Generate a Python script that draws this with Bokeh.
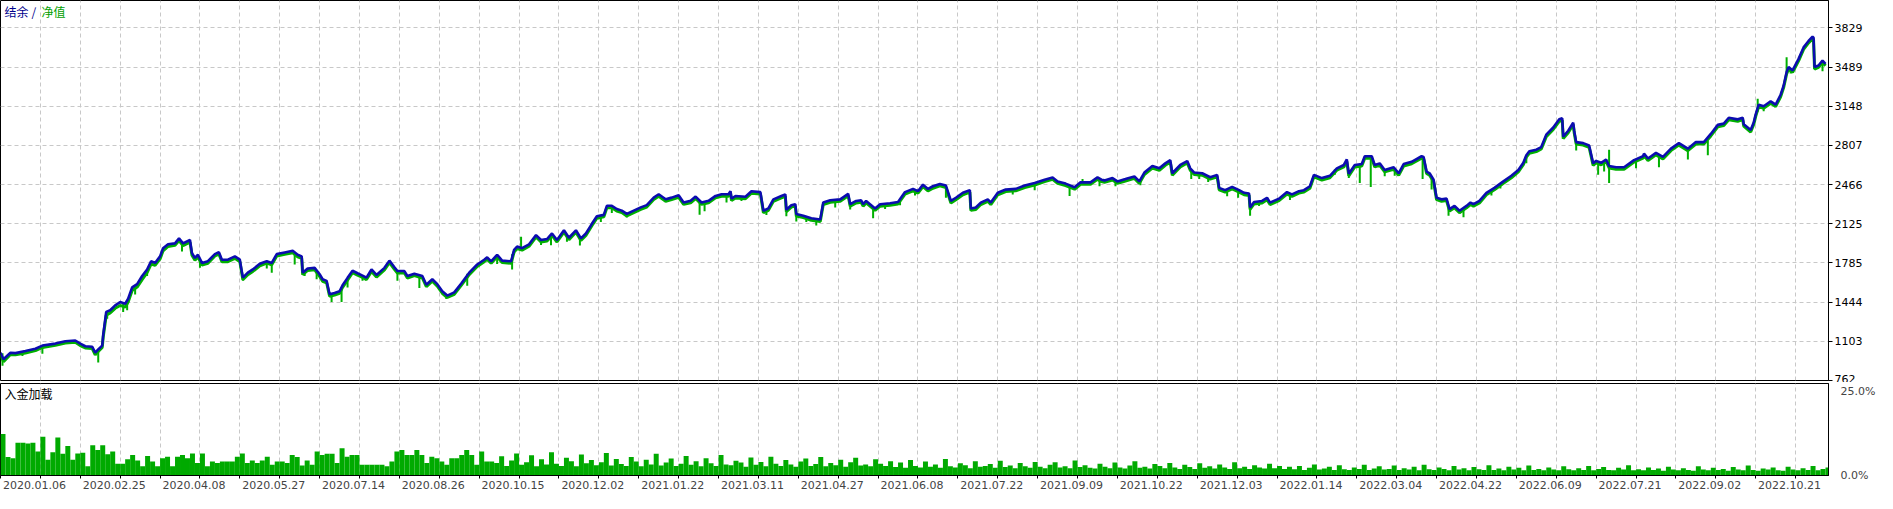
from bokeh.plotting import figure
from bokeh.models import Range1d, FixedTicker, Label, LinearAxis
from bokeh.layouts import column
from bokeh.embed import file_html
from bokeh.resources import INLINE

# ---------------- data ----------------
deal_idx = [
    0, 3, 10, 15, 25, 35, 42, 55, 65, 75, 80, 85, 92, 95, 98, 102, 103, 106, 110, 115,
    120, 125, 128, 132, 137, 142, 147, 151, 155, 160, 163, 168, 175, 179, 183, 190, 192, 195, 198, 202,
    208, 215, 219, 222, 228, 235, 240, 243, 248, 253, 260, 267, 272, 277, 285, 293, 298, 302, 303, 308,
    315, 320, 323, 327, 330, 335, 340, 343, 348, 353, 358, 363,
    367, 372, 377, 385, 390, 395, 398, 405, 408, 415, 423, 427, 433, 438, 443, 448, 455, 462, 470, 478,
    485, 488, 492, 498, 503, 512, 515, 518, 523, 530, 537, 542, 548, 553, 558, 565, 570, 577, 582, 587,
    593, 598, 605, 608, 613, 618, 623, 628, 635, 642, 648, 655, 660, 667, 673, 680, 685, 692, 697, 703,
    710, 717, 723, 730, 732, 733,
    737, 747, 753, 762, 765, 770, 775, 783, 787, 788, 793, 797, 798, 805, 813, 822, 825, 832, 842, 850,
    852, 858, 863, 865, 868, 877, 882, 892, 900, 907, 915, 920, 925, 930, 935, 942, 948, 953, 958, 965,
    972, 973, 978, 983, 990, 993, 1000, 1008, 1018, 1027, 1037, 1047, 1055, 1060, 1068, 1077, 1083, 1093, 1100, 1104,
    1107, 1115, 1120, 1128, 1137, 1142, 1147, 1155, 1162, 1168, 1173, 1175, 1183, 1190, 1193, 1197, 1205, 1213, 1220, 1222,
    1228, 1235, 1242, 1247, 1252, 1253, 1257, 1265, 1270, 1273, 1282, 1290, 1295, 1302, 1307, 1313, 1317, 1325, 1333, 1340,
    1347, 1350, 1352, 1358, 1365, 1368, 1375, 1378, 1383, 1388, 1397, 1402, 1407, 1415, 1425, 1427, 1430, 1433, 1437, 1440,
    1445, 1450, 1453, 1458, 1463, 1470, 1474,
    1477, 1483, 1490, 1498, 1507, 1515, 1522, 1527, 1530, 1533, 1540, 1545, 1550, 1557, 1563, 1566, 1567, 1572, 1577, 1578,
    1580, 1587, 1593, 1597, 1600, 1605, 1610, 1613, 1620, 1628, 1638, 1647, 1648, 1652, 1660, 1667, 1675, 1683, 1692, 1700,
    1708, 1715, 1722, 1728, 1733, 1742, 1747, 1748, 1755, 1758, 1760, 1763, 1768, 1775, 1780, 1785, 1788, 1791, 1793, 1797,
    1803, 1808, 1813, 1817, 1818, 1819, 1823, 1827, 1830,
]

balance = [
    1004, 947, 1004, 1000, 1018, 1038, 1066, 1083, 1103, 1110, 1083, 1060, 1055, 1004, 1032, 1066, 1160, 1359, 1373, 1416,
    1444, 1430, 1473, 1572, 1600, 1671, 1728, 1800, 1785, 1842, 1913, 1947, 1955, 1998, 1955, 1984, 1870, 1828, 1856, 1785,
    1800, 1862, 1879, 1813, 1813, 1842, 1813, 1657, 1700, 1728, 1777, 1800, 1785, 1862, 1876, 1890, 1856, 1842, 1700, 1737,
    1742, 1686, 1643, 1629, 1512, 1523, 1538, 1590, 1655, 1717, 1695, 1675,
    1657, 1728, 1680, 1742, 1805, 1748, 1714, 1714, 1671, 1691, 1671, 1595, 1643, 1600, 1538, 1501, 1529, 1606, 1700, 1771,
    1813, 1833, 1799, 1856, 1805, 1799, 1899, 1927, 1913, 1947, 2027, 1984, 1993, 2041, 1984, 2069, 2004, 2069, 1998, 2041,
    2125, 2191, 2203, 2282, 2282, 2254, 2240, 2211, 2240, 2268, 2288, 2353, 2382, 2339, 2353, 2373, 2311, 2325, 2362, 2311,
    2325, 2368, 2382, 2382, 2410, 2345,
    2367, 2361, 2409, 2401, 2239, 2259, 2338, 2367, 2381, 2247, 2287, 2296, 2210, 2196, 2173, 2162, 2310, 2330, 2338, 2386,
    2296, 2324, 2330, 2296, 2324, 2259, 2296, 2304, 2315, 2401, 2429, 2409, 2466, 2429, 2452, 2472, 2458, 2324, 2352, 2395,
    2418, 2259, 2267, 2310, 2338, 2310, 2395, 2423, 2429, 2458, 2480, 2509, 2529, 2494, 2475, 2443, 2486, 2486, 2529, 2509,
    2503, 2523, 2494, 2514, 2537, 2494, 2571, 2628, 2608, 2651, 2679, 2565, 2637, 2671, 2608, 2571, 2565, 2531, 2551, 2438,
    2418, 2446, 2418, 2395, 2389, 2267, 2315, 2324, 2352, 2310, 2344, 2401, 2381, 2409, 2418, 2452, 2551, 2523, 2543, 2608,
    2637, 2685, 2560, 2637, 2645, 2713, 2713, 2637, 2651, 2594, 2617, 2565, 2645, 2665, 2713, 2707, 2580, 2565, 2509, 2352,
    2338, 2344, 2253, 2281, 2239, 2281, 2310,
    2296, 2324, 2395, 2438, 2494, 2543, 2594, 2656, 2722, 2756, 2770, 2793, 2901, 2963, 3034, 3043, 2884, 2935, 3006, 2935,
    2836, 2827, 2807, 2651, 2673, 2656, 2685, 2628, 2617, 2617, 2679, 2713, 2736, 2693, 2742, 2707, 2779, 2827, 2779, 2836,
    2836, 2907, 2986, 2997, 3048, 3034, 3048, 2992, 2941, 3006, 3077, 3162, 3148, 3191, 3162, 3248, 3327, 3446, 3489, 3460,
    3560, 3660, 3716, 3753, 3745, 3489, 3503, 3546, 3517,
]

equity = [
    985, 925, 988, 985, 1000, 1022, 1050, 1068, 1088, 1095, 1066, 1045, 1040, 985, 1015, 1050, 1140, 1330, 1350, 1390,
    1415, 1400, 1445, 1545, 1575, 1640, 1700, 1775, 1765, 1820, 1890, 1928, 1938, 1980, 1935, 1965, 1852, 1808, 1838, 1766,
    1782, 1845, 1862, 1795, 1796, 1825, 1796, 1640, 1683, 1711, 1760, 1783, 1768, 1845, 1860, 1874, 1838, 1825, 1683, 1720,
    1725, 1668, 1625, 1612, 1495, 1506, 1521, 1572, 1636, 1700, 1678, 1658,
    1640, 1710, 1662, 1725, 1788, 1730, 1697, 1697, 1654, 1674, 1654, 1578, 1626, 1583, 1521, 1484, 1512, 1589, 1683, 1754,
    1796, 1816, 1782, 1839, 1788, 1782, 1880, 1910, 1896, 1930, 2010, 1967, 1976, 2024, 1967, 2052, 1987, 2052, 1981, 2024,
    2108, 2174, 2186, 2265, 2265, 2237, 2223, 2194, 2223, 2251, 2271, 2336, 2365, 2322, 2336, 2356, 2294, 2308, 2345, 2294,
    2308, 2351, 2365, 2365, 2393, 2328,
    2350, 2344, 2392, 2384, 2222, 2242, 2321, 2350, 2364, 2230, 2270, 2279, 2193, 2179, 2156, 2145, 2293, 2313, 2321, 2369,
    2279, 2307, 2313, 2279, 2307, 2242, 2279, 2287, 2298, 2384, 2412, 2392, 2449, 2412, 2435, 2455, 2441, 2307, 2335, 2378,
    2401, 2242, 2250, 2293, 2321, 2293, 2378, 2406, 2412, 2441, 2463, 2492, 2512, 2477, 2458, 2426, 2469, 2469, 2512, 2492,
    2486, 2506, 2477, 2497, 2520, 2477, 2554, 2611, 2591, 2634, 2662, 2548, 2620, 2654, 2591, 2554, 2548, 2514, 2534, 2421,
    2401, 2429, 2401, 2378, 2372, 2250, 2298, 2307, 2335, 2293, 2327, 2384, 2364, 2392, 2401, 2435, 2534, 2506, 2526, 2591,
    2620, 2668, 2543, 2620, 2628, 2696, 2696, 2620, 2634, 2577, 2600, 2548, 2628, 2648, 2696, 2690, 2563, 2548, 2492, 2335,
    2321, 2327, 2236, 2264, 2222, 2264, 2293,
    2279, 2307, 2378, 2421, 2477, 2526, 2577, 2639, 2705, 2739, 2753, 2776, 2884, 2946, 3017, 3026, 2867, 2918, 2989, 2918,
    2819, 2810, 2790, 2634, 2656, 2639, 2668, 2611, 2600, 2600, 2662, 2696, 2719, 2676, 2725, 2690, 2762, 2810, 2762, 2819,
    2819, 2890, 2969, 2980, 3031, 3017, 3031, 2975, 2924, 2989, 3060, 3145, 3131, 3174, 3145, 3231, 3310, 3429, 3472, 3443,
    3543, 3643, 3699, 3736, 3728, 3472, 3486, 3529, 3500,
]

# short equity excursions (deal index, from, to)
spike_idx = [2, 22, 42, 98, 107, 123, 127, 135, 147, 152, 165, 182, 200, 243, 267, 272, 295, 305, 317, 332,
             342, 348, 363, 398, 420, 447, 468, 498, 505, 513, 542, 552, 568, 581, 602, 613, 628, 701, 706, 728,
             743, 768, 788, 798, 808, 818, 837, 852, 875, 887, 902, 917, 948, 974, 1015, 1037, 1072, 1102, 1118, 1143,
             1194, 1202, 1211, 1230, 1241, 1253, 1262, 1293, 1338, 1352, 1363, 1374, 1388, 1398, 1426, 1435, 1452, 1467, 1495, 1504,
             1530, 1580, 1602, 1608, 1613, 1640, 1663, 1692, 1712, 1768, 1795, 1827,
             522, 1085, 1613, 1762, 1791]
spike_from = [1000, 1015, 1060, 1030, 1365, 1430, 1460, 1590, 1720, 1795, 1920, 1960, 1800, 1657, 1790, 1785, 1870, 1720, 1700, 1515,
              1560, 1650, 1670, 1714, 1680, 1510, 1690, 1850, 1805, 1860, 1990, 2030, 2030, 2000, 2200, 2280, 2211, 2315, 2318, 2382,
              2361, 2255, 2250, 2210, 2185, 2168, 2333, 2296, 2265, 2298, 2340, 2425, 2458, 2262, 2428, 2480, 2460, 2520, 2500, 2510,
              2600, 2568, 2540, 2420, 2420, 2267, 2320, 2385, 2600, 2560, 2640, 2713, 2594, 2600, 2710, 2540, 2270, 2260, 2420, 2480,
              2722, 2836, 2665, 2670, 2628, 2690, 2720, 2779, 2850, 3148, 3470, 3540,
              1913, 2486, 2628, 3100, 3446]
spike_to = [890, 975, 995, 918, 1300, 1359, 1373, 1511, 1671, 1770, 1898, 1884, 1742, 1629, 1737, 1700, 1771, 1671, 1643, 1444,
            1444, 1572, 1629, 1629, 1566, 1472, 1586, 1776, 1776, 1728, 1941, 1938, 1970, 1936, 2140, 2220, 2180, 2203, 2234, 2311,
            2324, 2202, 2190, 2145, 2140, 2111, 2267, 2250, 2173, 2253, 2287, 2372, 2352, 2239, 2381, 2418, 2367, 2452, 2452, 2460,
            2514, 2514, 2490, 2366, 2352, 2196, 2281, 2332, 2551, 2523, 2480, 2446, 2540, 2543, 2514, 2423, 2196, 2182, 2372, 2432,
            2651, 2764, 2551, 2580, 2480, 2608, 2617, 2685, 2722, 3105, 3432, 3452,
            2012, 2514, 2770, 3213, 3574]

# deposit load, %, one value per 5-deal bin
load_pct = [
    11.3, 5.0, 4.7, 8.9, 8.9, 8.7, 8.9, 6.5, 10.5, 4.3, 6.3, 10.3, 5.9, 8.0, 4.3, 6.0, 6.2, 2.5, 8.2, 6.9,
    8.2, 5.8, 6.5, 3.2, 3.2, 4.4, 5.6, 4.1, 2.5, 5.3, 3.8, 2.5, 4.7, 5.1, 2.5, 5.1, 5.6, 4.7, 6.0, 3.4,
    6.0, 2.5, 3.8, 3.4, 3.8, 3.8, 3.8, 5.1, 6.0, 3.4, 4.1, 3.4, 4.1, 5.1, 2.9, 3.8, 3.8, 3.4, 5.6, 5.0,
    2.7, 4.1, 2.9, 6.5, 5.6, 5.9, 5.9, 3.4, 7.4, 5.1, 5.6, 5.6, 2.9, 2.9, 2.9, 2.9, 2.9, 2.5, 3.8, 6.5,
    6.9, 5.6, 5.6, 6.9, 5.6, 3.4, 5.1, 4.7, 3.8, 2.9, 4.7, 4.7, 5.6, 6.9, 5.6, 2.9, 6.5, 3.8, 3.8,
    3.4, 5.2, 2.6, 4.1, 6.0, 2.9, 3.6, 5.5, 2.5, 4.4, 3.0, 6.3, 3.2, 2.6, 4.8, 3.9, 2.5, 5.7, 3.3, 4.2,
    2.8, 3.6, 6.1, 2.7, 4.5, 3.1, 2.6, 5.0, 3.8, 2.5, 4.3, 3.0, 5.9, 2.7, 3.5, 4.6, 2.6, 3.2, 5.3, 2.9,
    3.9, 2.5, 4.7, 3.3, 2.6, 5.6, 3.0, 2.8, 4.0, 3.5, 2.4, 4.9, 2.9, 3.7, 2.5, 5.1, 3.2, 2.6, 4.2, 3.0,
    2.4, 3.8, 4.6, 2.6, 3.1, 5.0, 2.5, 3.4, 2.8, 4.3, 2.4, 3.6, 4.8, 2.7, 3.0, 2.5, 4.4, 3.2, 2.6, 3.9,
    2.3, 3.5, 2.1, 4.2, 2.6, 2.2, 3.8, 2.4, 3.0, 2.1, 4.5, 2.5, 2.2, 3.3, 2.8, 2.0, 3.9, 2.4, 2.6, 3.1,
    2.1, 4.0, 2.3, 2.7, 2.0, 3.4, 2.5, 2.1, 3.7, 2.4, 2.0, 2.9, 3.6, 2.2, 2.5, 2.0, 4.1, 2.3, 2.8, 2.1,
    1.9, 3.2, 2.4, 2.0, 3.5, 2.2, 1.9, 2.7, 3.9, 2.1, 2.4, 1.9, 3.1, 2.6, 2.0, 3.4, 2.2, 1.8, 2.9, 2.3,
    1.8, 3.3, 2.1, 2.5, 1.9, 3.0, 2.2, 1.8, 3.6, 2.0, 2.4, 1.8, 2.8, 2.2, 1.9, 3.2, 2.0, 2.6, 1.8, 2.4,
    1.7, 2.6, 1.5, 2.1, 3.0, 1.6, 1.9, 2.4, 1.5, 2.8, 1.7, 1.5, 2.2, 1.8, 2.9, 1.5, 1.9, 2.5, 1.6, 1.8,
    2.7, 1.5, 2.0, 1.6, 2.4, 1.4, 2.9, 1.7, 1.5, 2.2, 1.8, 1.4, 2.6, 1.6, 2.0, 1.4, 2.3, 1.7, 1.5, 2.8,
    1.5, 1.9, 1.4, 2.4, 1.6, 2.1, 1.4, 2.7, 1.5, 1.8, 1.4, 2.2, 1.6, 1.4, 2.5, 1.7, 1.4, 2.0, 1.5, 2.6,
    1.4, 1.8, 2.3, 1.5, 1.4, 2.1, 1.6, 2.8, 1.4, 1.7, 1.4, 2.2, 1.5, 1.9, 1.3, 2.4, 1.6, 1.4, 2.0, 1.5,
    1.3, 2.5, 1.6, 1.4, 2.1, 1.5, 1.8, 1.3, 2.3, 1.6, 1.4, 2.7, 1.5, 1.3, 1.9, 1.6, 2.2, 1.4, 1.3, 2.4,
    1.6, 1.4, 2.0, 1.5, 2.6, 1.4, 1.8, 2.2,
]
BIN = 5
LOAD_MAX = 25.0

y_ticks = [762, 1103, 1444, 1785, 2125, 2466, 2807, 3148, 3489, 3829]
date_labels = ["2020.01.06", "2020.02.25", "2020.04.08", "2020.05.27", "2020.07.14", "2020.08.26",
               "2020.10.15", "2020.12.02", "2021.01.22", "2021.03.11", "2021.04.27", "2021.06.08",
               "2021.07.22", "2021.09.09", "2021.10.22", "2021.12.03", "2022.01.14", "2022.03.04",
               "2022.04.22", "2022.06.09", "2022.07.21", "2022.09.02", "2022.10.21"]
N_DEALS = 1833
GRID_STEP = 40
LABEL_STEP = 80

# ---------------- styling ----------------
BLUE = "#0c0cb0"
GREEN = "#00b000"
GRID = "#c8c8c8"
FONT = "DejaVu Sans"
CJK = "Noto Sans CJK SC"
FRAME_W = 1828
MAIN_H = 380
LOAD_H = 92

grid_pos = list(range(0, N_DEALS + 1, GRID_STEP))
label_pos = [LABEL_STEP * i + 34 for i in range(len(date_labels))]

xr = Range1d(0, N_DEALS)

p1 = figure(frame_width=FRAME_W, frame_height=MAIN_H, x_range=xr, y_range=Range1d(762, 4068),
            output_backend="svg", toolbar_location=None, x_axis_location=None,
            y_axis_location="right", min_border_left=0, min_border_top=0,
            min_border_bottom=2, min_border_right=46)
p1.background_fill_color = "white"
p1.border_fill_color = "white"
p1.outline_line_color = "black"
p1.outline_line_width = 1
p1.yaxis.ticker = FixedTicker(ticks=y_ticks)
p1.yaxis.major_label_text_font = FONT
p1.yaxis.major_label_text_font_size = "11px"
p1.yaxis.major_label_text_color = "black"
p1.yaxis.major_tick_out = 4
p1.yaxis.major_tick_in = 0
p1.yaxis.minor_tick_line_color = None
p1.yaxis.major_label_standoff = 2
p1.yaxis.axis_line_color = "black"
p1.xgrid.ticker = FixedTicker(ticks=grid_pos)
p1.ygrid.ticker = FixedTicker(ticks=y_ticks)
for g in (p1.xgrid, p1.ygrid):
    g.grid_line_color = GRID
    g.grid_line_dash = "4 3"
    g.grid_line_width = 1

p1.line(deal_idx, equity, line_color=GREEN, line_width=3)
p1.segment(x0=spike_idx, y0=spike_from, x1=spike_idx, y1=spike_to, line_color=GREEN, line_width=2)
p1.line(deal_idx, balance, line_color=BLUE, line_width=2.6)

top_y = 4068 - 11 * (4068 - 762) / MAIN_H
p1.add_layout(Label(x=0, y=top_y, x_offset=4, text="结余", text_color="#00008c",
                    text_font=CJK, text_font_size="12px", text_baseline="middle"))
p1.add_layout(Label(x=0, y=top_y, x_offset=31, text="/", text_color="#00008c",
                    text_font=CJK, text_font_size="12px", text_baseline="middle"))
p1.add_layout(Label(x=0, y=top_y, x_offset=41, text="净值", text_color="#00a000",
                    text_font=CJK, text_font_size="12px", text_baseline="middle"))

p2 = figure(frame_width=FRAME_W, frame_height=LOAD_H, x_range=xr, y_range=Range1d(0, LOAD_MAX),
            output_backend="svg", toolbar_location=None, y_axis_location=None,
            min_border_left=0, min_border_top=1, min_border_bottom=0, min_border_right=46)
p2.background_fill_color = "white"
p2.border_fill_color = "white"
p2.outline_line_color = "black"
p2.outline_line_width = 1

# the % scale labels sit inside the panel: 25.0% is printed just below the top edge
p2.extra_y_ranges = {"pct_labels": Range1d(0, LOAD_MAX * LOAD_H / (LOAD_H - 8))}
pct_axis = LinearAxis(y_range_name="pct_labels", ticker=FixedTicker(ticks=[0, 25]),
                      major_label_overrides={0: "0.0%", 25: "25.0%"})
pct_axis.major_label_text_font = FONT
pct_axis.major_label_text_font_size = "11px"
pct_axis.major_tick_line_color = None
pct_axis.minor_tick_line_color = None
pct_axis.major_label_standoff = 6
pct_axis.axis_line_color = "black"
p2.add_layout(pct_axis, "right")
p2.ygrid.visible = False
p2.xgrid.ticker = FixedTicker(ticks=grid_pos)
p2.xgrid.grid_line_color = GRID
p2.xgrid.grid_line_dash = "4 3"

p2.xaxis.ticker = FixedTicker(ticks=label_pos, minor_ticks=grid_pos)
p2.xaxis.major_label_overrides = {pos: lab for pos, lab in zip(label_pos, date_labels)}
p2.xaxis.major_tick_line_color = None
p2.xaxis.major_tick_out = 0
p2.xaxis.major_tick_in = 0
p2.xaxis.minor_tick_out = 3
p2.xaxis.minor_tick_in = 0
p2.xaxis.minor_tick_line_color = "black"
p2.xaxis.major_label_standoff = 2
p2.xaxis.major_label_text_font = FONT
p2.xaxis.major_label_text_font_size = "11px"
p2.xaxis.axis_line_color = "black"

bar_x = [BIN * k + BIN / 2 for k in range(len(load_pct))]
p2.vbar(x=bar_x, top=load_pct, width=BIN, fill_color="#00aa00", line_color=None)

p2.add_layout(Label(x=0, y=LOAD_MAX - 10 * LOAD_MAX / LOAD_H, x_offset=4, text="入金加载",
                    text_color="black", text_font=CJK, text_font_size="12px",
                    text_baseline="middle"))

layout = column(p1, p2)
open("out.html", "w").write(file_html(layout, INLINE))
